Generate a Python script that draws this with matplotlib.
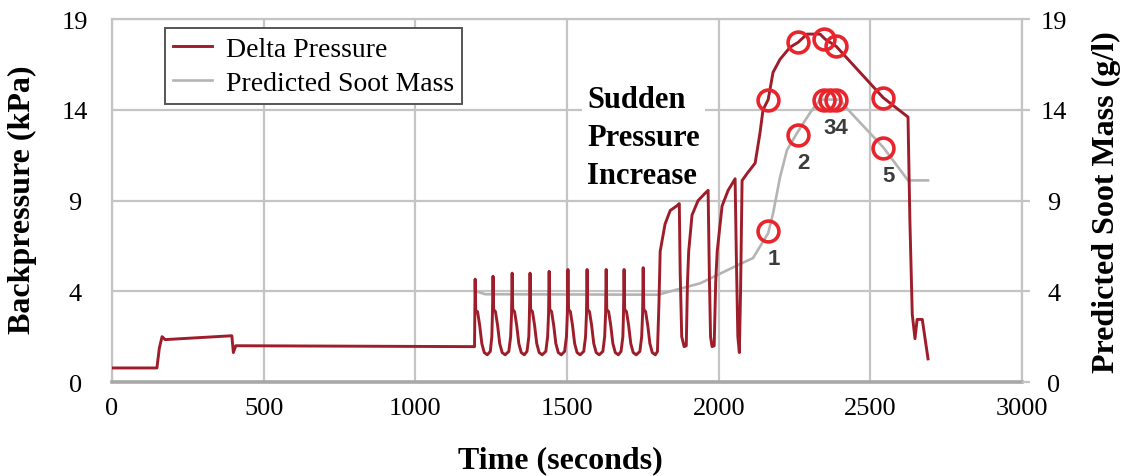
import numpy as np
import matplotlib
matplotlib.use("Agg")
import matplotlib.pyplot as plt

plt.rcParams["font.family"] = ["Liberation Serif", "DejaVu Serif"]

# Delta pressure trace (time in s, backpressure in kPa)
dp_time = [0, 148, 156, 165, 175, 395, 400, 408, 1195,
           1197, 1199, 1205, 1212, 1219, 1227, 1237, 1247, 1252, 1254,
           1256, 1258, 1264, 1271, 1278, 1286, 1296, 1308, 1314, 1317,
           1319, 1321, 1327, 1334, 1341, 1349, 1359, 1368, 1374, 1376,
           1378, 1380, 1386, 1393, 1400, 1408, 1418, 1430, 1436, 1439,
           1441, 1443, 1449, 1456, 1463, 1471, 1481, 1492, 1498, 1501,
           1503, 1505, 1511, 1518, 1525, 1533, 1543, 1555, 1561, 1564,
           1566, 1568, 1574, 1581, 1588, 1596, 1606, 1618, 1624, 1627,
           1629, 1631, 1637, 1644, 1651, 1659, 1669, 1678, 1684, 1686,
           1688, 1690, 1696, 1703, 1710, 1718, 1728, 1740, 1746, 1749,
           1751, 1753, 1759, 1766, 1773, 1781, 1791, 1798,
           1803, 1807, 1823, 1840, 1863, 1870, 1873, 1878, 1886,
           1893, 1897, 1901, 1912, 1932, 1955, 1965, 1969, 1973, 1978,
           1985, 1990, 1995, 2011, 2031, 2054, 2058, 2063, 2068,
           2072, 2077, 2094, 2120, 2136, 2146, 2163, 2179, 2202, 2235, 2262,
           2291, 2334, 2351, 2387, 2542, 2624, 2630, 2638, 2647, 2654, 2671, 2690]
dp_kpa = [0.62, 0.62, 1.5, 2.0, 1.87, 2.04, 1.3, 1.6, 1.56,
          4.67, 3.15, 3.1, 2.5, 1.7, 1.3, 1.2, 1.35, 2.0, 3.0,
          4.83, 3.2, 3.1, 2.5, 1.7, 1.3, 1.2, 1.35, 2.0, 3.0,
          5.0, 3.2, 3.1, 2.5, 1.7, 1.3, 1.2, 1.35, 2.0, 3.0,
          5.0, 3.2, 3.1, 2.5, 1.7, 1.3, 1.2, 1.35, 2.0, 3.0,
          5.1, 3.2, 3.1, 2.5, 1.7, 1.3, 1.2, 1.35, 2.0, 3.0,
          5.2, 3.2, 3.1, 2.5, 1.7, 1.3, 1.2, 1.35, 2.0, 3.0,
          5.2, 3.2, 3.1, 2.5, 1.7, 1.3, 1.2, 1.35, 2.0, 3.0,
          5.2, 3.2, 3.1, 2.5, 1.7, 1.3, 1.2, 1.35, 2.0, 3.0,
          5.2, 3.2, 3.1, 2.5, 1.7, 1.3, 1.2, 1.35, 2.0, 3.0,
          5.3, 3.2, 3.1, 2.5, 1.7, 1.3, 1.2, 1.35,
          3.5, 6.2, 7.7, 8.45, 8.72, 8.83, 5.0, 2.0, 1.56,
          1.6, 4.5, 6.2, 8.2, 9.0, 9.4, 9.56, 5.0, 2.0, 1.56,
          1.6, 4.5, 6.2, 8.7, 9.56, 10.2, 6.0, 2.0, 1.3,
          4.0, 10.1, 10.5, 11.06, 12.72, 14.0, 14.56, 16.06, 16.78, 17.44, 17.72,
          18.17, 18.17, 17.89, 17.5, 14.67, 13.6, 8.0, 2.98, 1.91, 2.76, 2.76, 1.02]

# Predicted soot mass (g/l)
soot_time = [1200, 1230, 1800, 1939, 2070, 2113, 2163, 2179, 2202, 2225, 2258,
             2301, 2334, 2400, 2417, 2542, 2624, 2690]
soot_gl = [4.0, 3.87, 3.85, 4.44, 5.5, 5.83, 7.2, 8.28, 10.28, 11.78, 12.72,
           13.83, 14.56, 14.56, 14.17, 11.94, 10.11, 10.11]

# circled events
dp_mark_time = [2163, 2262, 2347, 2387, 2542]
dp_mark_kpa = [14.56, 17.72, 17.89, 17.5, 14.67]
soot_mark_time = [2163, 2262, 2347, 2367, 2387, 2542]
soot_mark_gl = [7.33, 12.61, 14.56, 14.56, 14.56, 11.89]
event_labels = ["1", "2", "34", "5"]
event_mark_idx = [0, 1, 3, 5]

yticks = [0, 4, 9, 14, 19]
xticks = [0, 500, 1000, 1500, 2000, 2500, 3000]

red = "#9d1d2a"
gray = "#b4b4b4"
grid_c = "#c4c4c4"
mark_c = "#e8252c"

# tick labels are evenly spaced though their values are not
grid_pos = [0, 5, 10, 15, 20]
def fwd(v):
    return np.interp(v, yticks, grid_pos)
def inv(g):
    return np.interp(g, grid_pos, yticks)

fig = plt.figure(figsize=(11.27, 4.77), dpi=100)
ax = fig.add_axes([0.0994, 0.197, 0.8075, 0.761])
ax.set_yscale("function", functions=(fwd, inv))
ax.set_xlim(0, 3000)
ax.set_ylim(0, 19)
ax.set_xticks(xticks)
ax.set_yticks(yticks)
ax.grid(True, color=grid_c, lw=1.6, zorder=0)
ax.set_axisbelow(True)

ax.plot(soot_time, soot_gl, color=gray, lw=1.9, zorder=2, label="Predicted Soot Mass")
ax.plot(dp_time, dp_kpa, color=red, lw=2.1, zorder=3, label="Delta Pressure")
ax.plot(dp_mark_time, dp_mark_kpa, "o", ms=15, mfc="none", mec=mark_c, mew=2.6, zorder=4)
ax.plot(soot_mark_time, soot_mark_gl, "o", ms=15, mfc="none", mec=mark_c, mew=2.6, zorder=4)
for lab, i in zip(event_labels, event_mark_idx):
    ax.annotate(lab, (soot_mark_time[i], soot_mark_gl[i]), xytext=(4, -20),
                textcoords="offset points", ha="center", va="center",
                fontsize=16, fontweight="bold", color="#3c3c3c",
                family="Liberation Sans", zorder=5)

ax.text(0.522, 0.818, "Sudden\nPressure\nIncrease", transform=ax.transAxes,
        ha="left", va="top", fontsize=22, fontweight="bold", linespacing=1.4,
        bbox=dict(facecolor="white", edgecolor="none", pad=4), zorder=1)

for s in ["left", "right", "top"]:
    ax.spines[s].set_color(grid_c)
    ax.spines[s].set_linewidth(1.6)
ax.spines["bottom"].set_color("#a8a8a8")
ax.spines["bottom"].set_linewidth(2.6)

ax.tick_params(axis="y", length=0, pad=26.5, labelsize=19)
plt.setp(ax.get_yticklabels(), ha="center")
ax.tick_params(axis="x", length=0, pad=11, labelsize=19)

ax2 = ax.twinx()
ax2.set_yscale("function", functions=(fwd, inv))
ax2.set_ylim(0, 19)
ax2.set_yticks(yticks)
ax2.tick_params(axis="y", length=5.8, width=1.6, color=grid_c, pad=17, labelsize=19)
plt.setp(ax2.get_yticklabels(), ha="center")
for s in ax2.spines.values():
    s.set_visible(False)

handles, labels = ax.get_legend_handles_labels()
leg = ax.legend(handles[::-1], labels[::-1], loc="upper left",
                bbox_to_anchor=(0.058, 0.975), borderaxespad=0, fontsize=20,
                fancybox=False, edgecolor="#555555", framealpha=1,
                handlelength=1.4, handletextpad=0.5, labelspacing=0.3,
                borderpad=0.3)
leg.get_frame().set_linewidth(1.4)

fig.text(0.0195, 0.581, "Backpressure (kPa)", rotation=90, ha="center", va="center",
         fontsize=23, fontweight="bold")
fig.text(0.982, 0.577, "Predicted Soot Mass (g/l)", rotation=90, ha="center", va="center",
         fontsize=23, fontweight="bold")
fig.text(0.497, 0.034, "Time (seconds)", ha="center", va="center",
         fontsize=23, fontweight="bold")

fig.savefig("out.png", dpi=100)
